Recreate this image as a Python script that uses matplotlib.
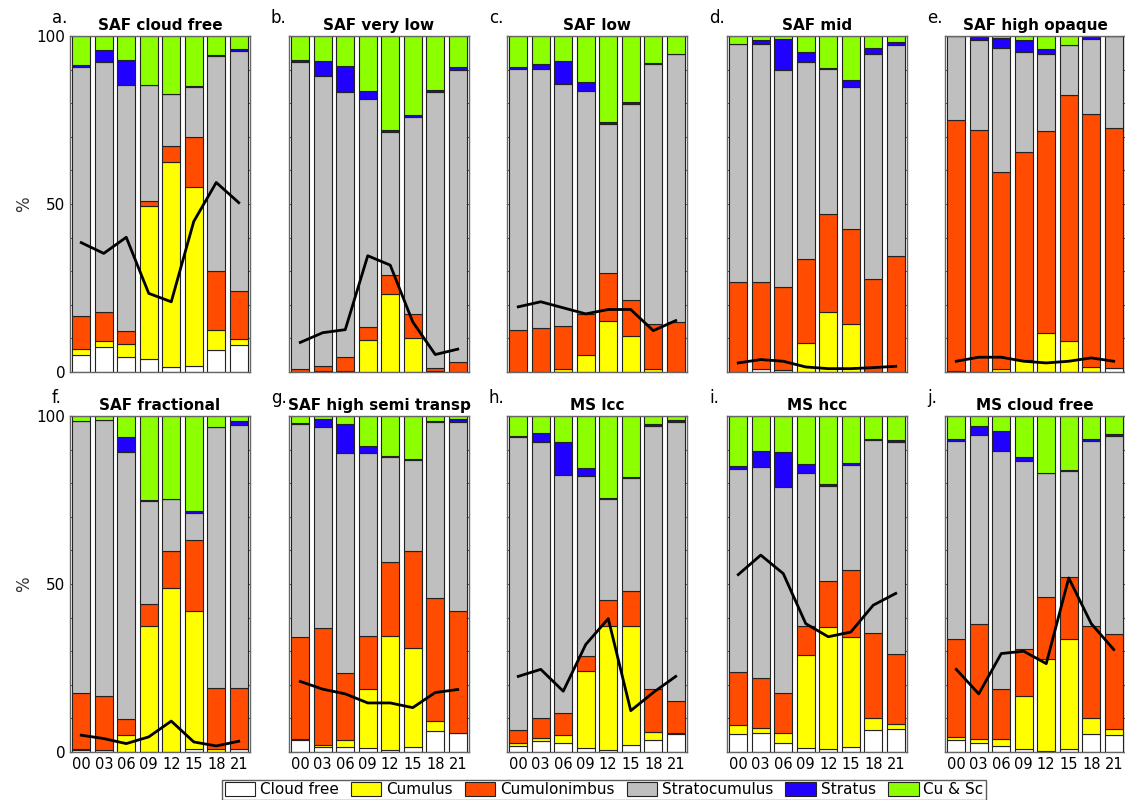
#!/usr/bin/env python3
"""
Diurnal cloud-type composition per satellite cloud class (stacked bars + line).
"""

import matplotlib
matplotlib.use("Agg")
import matplotlib.pyplot as plt
from matplotlib.patches import Patch


HOURS = ["00", "03", "06", "09", "12", "15", "18", "21"]

PANEL_LETTERS = ["a.", "b.", "c.", "d.", "e.", "f.", "g.", "h.", "i.", "j."]
PANEL_TITLES = [
    "SAF cloud free",
    "SAF very low",
    "SAF low",
    "SAF mid",
    "SAF high opaque",
    "SAF fractional",
    "SAF high semi transp",
    "MS lcc",
    "MS hcc",
    "MS cloud free",
]

CATEGORIES = ["Cloud free", "Cumulus", "Cumulonimbus", "Stratocumulus", "Stratus", "Cu & Sc"]
COLORS = ["#ffffff", "#ffff00", "#ff4c00", "#bfbfbf", "#2000ff", "#8cff00"]

# one list of 8 values (00..21 UTC) per panel, panels a..j
CLOUD_FREE = [
    [5.0, 7.3, 4.6, 4.0, 1.6, 1.9, 6.5, 8.0],
    [0, 0, 0, 0, 0, 0, 0, 0],
    [0, 0, 0, 0, 0, 0, 0, 0],
    [0, 1.0, 0, 0, 0, 0, 0, 0],
    [0.4, 0, 0, 0, 0, 0, 0, 1.3],
    [0.5, 0, 0, 0, 0, 1.0, 0, 1.0],
    [3.7, 1.6, 1.6, 1.3, 0.7, 1.6, 6.2, 5.8],
    [1.8, 3.4, 2.8, 1.3, 0.7, 2.1, 3.7, 5.3],
    [5.5, 5.8, 2.8, 1.3, 1.0, 1.6, 6.4, 6.8],
    [3.6, 2.8, 1.9, 1.0, 0.4, 1.0, 5.5, 5.2],
]
CUMULUS = [
    [1.8, 1.8, 3.6, 45.3, 61.0, 53.1, 5.9, 1.8],
    [0, 0.2, 0.4, 9.5, 23.3, 10.2, 0.4, 0],
    [0, 0, 1.0, 5.2, 15.1, 10.6, 1.0, 0],
    [0, 0, 0.7, 8.5, 17.9, 14.2, 0, 0],
    [0, 0, 1.0, 3.7, 11.7, 9.2, 1.6, 0],
    [0.5, 0.5, 5.0, 37.5, 48.9, 40.9, 1.0, 0],
    [0.3, 0.6, 2.1, 17.4, 33.8, 29.5, 2.9, 0],
    [1.0, 0.8, 2.4, 22.7, 36.9, 35.5, 2.4, 0.5],
    [2.6, 1.2, 3.0, 27.7, 36.1, 32.5, 3.8, 1.6],
    [0.9, 1.2, 2.1, 15.6, 27.3, 32.5, 4.7, 1.5],
]
CUMULONIMBUS = [
    [9.8, 8.8, 3.9, 1.7, 4.8, 14.8, 17.8, 14.4],
    [1.0, 1.7, 4.2, 3.8, 5.6, 7.1, 0.9, 3.1],
    [12.4, 13.0, 12.6, 12.1, 14.3, 10.8, 13.2, 14.9],
    [26.9, 25.9, 24.7, 25.0, 29.2, 28.4, 27.6, 34.6],
    [74.7, 72.1, 58.5, 61.9, 60.1, 73.2, 75.3, 71.3],
    [16.6, 16.1, 4.8, 6.4, 10.9, 21.1, 18.0, 18.0],
    [30.1, 34.8, 19.8, 15.8, 21.9, 28.6, 36.7, 36.3],
    [3.7, 6.0, 6.5, 4.7, 7.6, 10.3, 12.6, 9.3],
    [15.7, 14.9, 11.7, 8.6, 13.7, 20.2, 25.1, 20.9],
    [29.0, 34.2, 14.7, 14.2, 18.3, 18.6, 27.2, 28.3],
]
STRATOCUMULUS = [
    [74.2, 74.4, 73.4, 34.3, 15.2, 15.1, 63.8, 71.2],
    [91.3, 86.2, 78.7, 67.9, 42.6, 58.5, 82.0, 86.7],
    [77.9, 77.3, 72.2, 66.4, 44.5, 58.5, 77.5, 79.6],
    [70.6, 70.6, 64.6, 58.8, 43.2, 42.3, 66.9, 62.6],
    [24.9, 26.6, 37.0, 29.7, 22.9, 14.8, 22.3, 27.4],
    [80.9, 82.2, 79.6, 30.9, 15.6, 8.1, 77.6, 78.3],
    [63.4, 59.6, 65.4, 54.4, 31.3, 27.1, 52.4, 56.0],
    [87.3, 82.0, 70.7, 53.3, 30.2, 33.7, 78.3, 83.0],
    [60.3, 63.0, 61.4, 45.5, 28.4, 31.0, 57.5, 63.0],
    [59.2, 56.2, 70.8, 55.7, 36.9, 31.6, 55.3, 58.9],
]
STRATUS = [
    [0.7, 3.4, 7.5, 0.2, 0.2, 0.2, 0.2, 0.7],
    [0.7, 4.6, 7.8, 2.5, 0.6, 0.6, 0.7, 1.0],
    [0.5, 1.4, 6.8, 2.7, 0.6, 0.6, 0.3, 0.2],
    [0, 1.3, 9.0, 2.8, 0.3, 1.9, 1.8, 0.9],
    [0, 1.3, 3.0, 3.4, 1.3, 0.2, 0.8, 0],
    [0, 0, 4.4, 0.2, 0, 0.6, 0, 1.2],
    [0.4, 2.5, 8.7, 2.1, 0.3, 0.3, 0.3, 1.0],
    [0.2, 2.6, 9.8, 2.4, 0.2, 0.3, 0.6, 0.6],
    [0.9, 4.6, 10.3, 2.5, 0.6, 0.6, 0.5, 0.5],
    [0.6, 2.5, 6.0, 1.2, 0.2, 0.2, 0.6, 0.6],
]
CU_SC = [
    [8.5, 4.3, 7.0, 14.5, 17.2, 15.0, 5.8, 3.9],
    [7.0, 7.3, 8.9, 16.3, 27.9, 23.6, 16.0, 9.2],
    [9.2, 8.3, 7.4, 13.6, 25.5, 19.5, 8.0, 5.3],
    [2.5, 1.2, 1.0, 4.9, 9.4, 13.2, 3.7, 1.9],
    [0, 0, 0.5, 1.3, 4.0, 2.6, 0, 0],
    [1.5, 1.2, 6.2, 25.0, 24.6, 28.3, 3.4, 1.5],
    [2.1, 0.9, 2.4, 9.0, 12.0, 12.9, 1.5, 0.9],
    [6.0, 5.2, 7.8, 15.6, 24.4, 18.1, 2.4, 1.3],
    [15.0, 10.5, 10.8, 14.4, 20.2, 14.1, 6.7, 7.2],
    [6.7, 3.1, 4.5, 12.3, 16.9, 16.1, 6.7, 5.5],
]
LINE = [
    [38.5, 35.3, 40.1, 23.4, 20.9, 44.8, 56.4, 50.4],
    [8.8, 11.7, 12.6, 34.6, 31.8, 14.9, 5.2, 6.8],
    [19.4, 20.9, 19.1, 17.3, 18.6, 18.6, 12.3, 15.3],
    [2.7, 3.7, 3.2, 1.5, 1.0, 1.0, 1.3, 1.7],
    [3.2, 4.4, 4.4, 3.2, 2.7, 3.2, 4.2, 3.2],
    [5.0, 4.0, 2.5, 4.5, 9.2, 3.0, 1.8, 3.2],
    [21.0, 18.7, 17.3, 14.6, 14.6, 13.2, 17.7, 18.6],
    [22.5, 24.6, 18.1, 32.0, 39.7, 12.3, 17.7, 22.5],
    [52.8, 58.6, 53.1, 38.2, 34.3, 35.7, 43.7, 47.2],
    [24.6, 17.3, 29.3, 30.0, 26.3, 51.8, 38.2, 30.5],
]

FIG_W, FIG_H = 1125, 800
AX_LEFTS = [70, 289, 507, 727, 945]
AX_W = 180
ROW_TOPS = [36, 416]
AX_H = 336


def draw_panel(ax, idx):
    x = list(range(1, len(HOURS) + 1))
    series = [CLOUD_FREE, CUMULUS, CUMULONIMBUS, STRATOCUMULUS, STRATUS, CU_SC]
    bottom = [0.0] * len(HOURS)
    for data, color in zip(series, COLORS):
        vals = data[idx]
        ax.bar(x, vals, width=0.8, bottom=bottom, color=color,
               edgecolor="#222222", linewidth=0.8, zorder=2)
        bottom = [b + v for b, v in zip(bottom, vals)]

    ax.plot(x, LINE[idx], color="black", linewidth=2, zorder=3)

    ax.set_xlim(0.5, 8.5)
    ax.set_ylim(0, 100)
    ax.set_xticks(x)
    ax.set_yticks(range(0, 101, 10))
    ax.tick_params(direction="in", length=3, top=True, right=True,
                   color="#555555", labelsize=11)
    for spine in ax.spines.values():
        spine.set_color("#666666")
        spine.set_linewidth(1.0)

    ax.set_title(PANEL_TITLES[idx], fontsize=11, fontweight="bold", pad=4)


def main():
    fig = plt.figure(figsize=(FIG_W / 100, FIG_H / 100), dpi=100)

    for idx in range(10):
        row, col = divmod(idx, 5)
        left = AX_LEFTS[col] / FIG_W
        bottom = 1 - (ROW_TOPS[row] + AX_H) / FIG_H
        ax = fig.add_axes([left, bottom, AX_W / FIG_W, AX_H / FIG_H])
        draw_panel(ax, idx)

        if col == 0:
            ax.set_yticklabels(["0", "", "", "", "", "50", "", "", "", "", "100"])
            ax.set_ylabel("%", fontsize=12, color="#333333", labelpad=2)
        else:
            ax.set_yticklabels([])

        if row == 1:
            ax.set_xticklabels(HOURS, fontsize=10.5)
        else:
            ax.set_xticklabels([])

        fig.text((AX_LEFTS[col] - 18) / FIG_W, 1 - (ROW_TOPS[row] - 18) / FIG_H,
                 PANEL_LETTERS[idx], fontsize=12, ha="left", va="center")

    handles = [Patch(facecolor=c, edgecolor="#222222", linewidth=0.8, label=n)
               for n, c in zip(CATEGORIES, COLORS)]
    fig.legend(handles=handles, loc="upper center", ncol=6,
               bbox_to_anchor=(604 / FIG_W, 1 - 780 / FIG_H),
               fontsize=11, frameon=True, fancybox=False, edgecolor="#333333",
               handlelength=2.0, handleheight=1.0, handletextpad=0.3,
               columnspacing=0.8, borderpad=0.15, borderaxespad=0)

    fig.savefig("out.png", dpi=100)
    plt.close(fig)


if __name__ == "__main__":
    main()
